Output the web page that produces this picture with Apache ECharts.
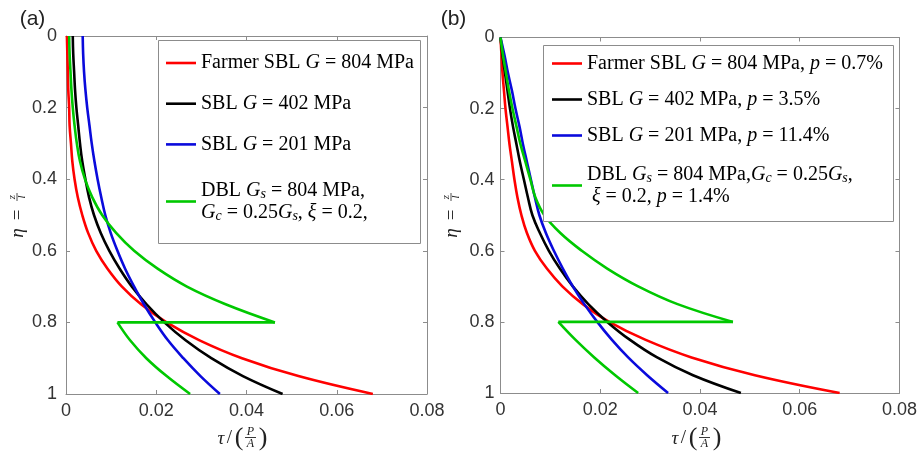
<!DOCTYPE html>
<html><head><meta charset="utf-8">
<script src="https://cdn.jsdelivr.net/npm/echarts@6/dist/echarts.min.js"></script>
<style>html,body{margin:0;padding:0;background:#fff}#c{width:920px;height:453px}</style>
</head><body><div id="c"></div>
<script>
// ---------- data (eta = z/l, values = tau/(P/A)) ----------
const etaGrid = [0, 0.05, 0.1, 0.15, 0.2, 0.25, 0.3, 0.35, 0.4, 0.45, 0.5, 0.55, 0.6, 0.65, 0.7, 0.75, 0.8, 0.85, 0.9, 0.95, 1.0];
// panel (a)
const redA   = [0.0002, 0.0003, 0.0004, 0.0005, 0.0007, 0.0008, 0.0011, 0.0014, 0.0019, 0.0026, 0.0036, 0.0049, 0.0067, 0.0092, 0.0124, 0.0167, 0.0223, 0.0296, 0.0390, 0.0515, 0.0680];
const blackA = [0.0015, 0.0016, 0.0018, 0.0020, 0.0023, 0.0027, 0.0031, 0.0036, 0.0043, 0.0051, 0.0062, 0.0077, 0.0096, 0.0119, 0.0146, 0.0179, 0.0218, 0.0265, 0.0322, 0.0392, 0.0480];
const blueA  = [0.0037, 0.0038, 0.0040, 0.0043, 0.0047, 0.0052, 0.0057, 0.0063, 0.0070, 0.0078, 0.0087, 0.0099, 0.0114, 0.0131, 0.0151, 0.0173, 0.0198, 0.0226, 0.0260, 0.0298, 0.0341];
const greenUpperEta = [0, 0.05, 0.1, 0.15, 0.2, 0.25, 0.3, 0.35, 0.4, 0.45, 0.5, 0.55, 0.6, 0.65, 0.7, 0.75, 0.8];
const greenUpperA   = [0.0007, 0.0008, 0.0010, 0.0012, 0.0015, 0.0019, 0.0024, 0.0031, 0.0042, 0.0058, 0.0080, 0.0111, 0.0151, 0.0203, 0.0268, 0.0355, 0.0463];
const greenLowerEta = [0.8, 0.85, 0.9, 0.95, 1.0];
const greenLowerA   = [0.0114, 0.0142, 0.0178, 0.0223, 0.0275];
// panel (b)
const redB   = [0.0000, 0.0002, 0.0004, 0.0007, 0.0010, 0.0014, 0.0018, 0.0023, 0.0028, 0.0034, 0.0042, 0.0053, 0.0069, 0.0093, 0.0124, 0.0165, 0.0218, 0.0290, 0.0383, 0.0510, 0.0680];
const blackB = [0.0000, 0.0004, 0.0009, 0.0014, 0.0019, 0.0025, 0.0032, 0.0039, 0.0047, 0.0055, 0.0064, 0.0079, 0.0097, 0.0119, 0.0145, 0.0176, 0.0214, 0.0259, 0.0314, 0.0386, 0.0482];
const blueB  = [0.0000, 0.0008, 0.0015, 0.0023, 0.0030, 0.0038, 0.0045, 0.0053, 0.0061, 0.0069, 0.0078, 0.0091, 0.0107, 0.0125, 0.0145, 0.0168, 0.0194, 0.0223, 0.0256, 0.0294, 0.0336];
const greenUpperB = [0.0000, 0.0005, 0.0011, 0.0017, 0.0024, 0.0032, 0.0040, 0.0050, 0.0060, 0.0070, 0.0088, 0.0120, 0.0163, 0.0214, 0.0276, 0.0355, 0.0466];
const greenLowerB = [0.0116, 0.0150, 0.0188, 0.0230, 0.0276];

const namesA = ['Farmer SBL G = 804 MPa', 'SBL G = 402 MPa', 'SBL G = 201 MPa', 'DBL Gs = 804 MPa, Gc = 0.25Gs, xi = 0.2,'];
const namesB = ['Farmer SBL G = 804 MPa, p = 0.7%', 'SBL G = 402 MPa, p = 3.5%', 'SBL G = 201 MPa, p = 11.4%', 'DBL Gs = 804 MPa,Gc = 0.25Gs, xi = 0.2, p = 1.4%'];
const richNames = {};
richNames[namesA[0]] = 'Farmer SBL {i|G} = 804 MPa';
richNames[namesA[1]] = 'SBL {i|G} = 402 MPa';
richNames[namesA[2]] = 'SBL {i|G} = 201 MPa';
richNames[namesA[3]] = 'DBL {i|G}{s|s} = 804 MPa,\n{i|G}{s|c} = 0.25{i|G}{s|s}, {i|ξ} = 0.2,';
richNames[namesB[0]] = 'Farmer SBL {i|G} = 804 MPa, {i|p} = 0.7%';
richNames[namesB[1]] = 'SBL {i|G} = 402 MPa, {i|p} = 3.5%';
richNames[namesB[2]] = 'SBL {i|G} = 201 MPa, {i|p} = 11.4%';
richNames[namesB[3]] = 'DBL {i|G}{s|s} = 804 MPa,{i|G}{s|c} = 0.25{i|G}{s|s},\n {i|ξ} = 0.2, {i|p} = 1.4%';

const colors = {red:'#ff0000', black:'#000000', blue:'#0a0adc', green:'#00c800'};
const AX = '#8c8c8c';
const SERIF = '"Liberation Serif", "DejaVu Serif", serif';
const SANS = '"Liberation Sans", Arial, sans-serif';

function pts(xs, ys) { return xs.map((v, i) => [v, ys[i]]); }

function xAx(g, pos, lab) {
  return {type:'value', gridIndex:g, position:pos, min:0, max:0.08, interval:0.02,
    axisLine:{show:true, onZero:false, lineStyle:{color:AX, width:1}},
    axisTick:{show:true, inside:true, length:4, lineStyle:{color:AX}},
    splitLine:{show:false},
    axisLabel:{show:lab, color:'#333', fontSize:18, fontFamily:SANS, margin:8}};
}
function yAx(g, pos, lab, margin) {
  return {type:'value', gridIndex:g, position:pos, min:0, max:1, interval:0.2, inverse:true,
    axisLine:{show:true, onZero:false, lineStyle:{color:AX, width:1}},
    axisTick:{show:true, inside:true, length:4, lineStyle:{color:AX}},
    splitLine:{show:false},
    axisLabel:{show:lab, color:'#333', fontSize:18, fontFamily:SANS, margin:margin}};
}
function line(name, data, color, xi, yi, smooth) {
  return {type:'line', name:name, data:data, xAxisIndex:xi, yAxisIndex:yi, symbol:'none',
    smooth:smooth, clip:true, z:3,
    lineStyle:{color:color, width:2.6}, itemStyle:{color:color}, emphasis:{disabled:true}};
}
function panelSeries(names, red, black, blue, gUp, gLow, xi, yi) {
  return [
    line(names[0], pts(red, etaGrid), colors.red, xi, yi, 0.4),
    line(names[1], pts(black, etaGrid), colors.black, xi, yi, 0.4),
    line(names[2], pts(blue, etaGrid), colors.blue, xi, yi, 0.4),
    line(names[3], pts(gUp, greenUpperEta), colors.green, xi, yi, 0.4),
    line(names[3], [[gUp[gUp.length-1], greenLowerEta[0]], [gLow[0], greenLowerEta[0]]], colors.green, xi, yi, false),
    line(names[3], pts(gLow, greenLowerEta), colors.green, xi, yi, 0.4)
  ];
}
const legendText = {
  fontFamily:SERIF, fontSize:20, color:'#000', lineHeight:22,
  rich:{
    i:{fontFamily:SERIF, fontSize:20, fontStyle:'italic', color:'#000', lineHeight:22},
    s:{fontFamily:SERIF, fontSize:14, fontStyle:'italic', color:'#000', lineHeight:22, verticalAlign:'bottom'}
  }
};
function legend(names, left, top, gap) {
  return {data:names, orient:'vertical', left:left, top:top, itemGap:gap, itemWidth:30, itemHeight:2.6,
    icon:'rect', selectedMode:false, z:20, padding:0,
    formatter:(n) => richNames[n], textStyle:legendText};
}

function xLabel(x0) {
  const y0 = 438;
  return {type:'group', children:[
    {type:'text', x:x0+5, y:y0+1, style:{text:'τ', fontFamily:SERIF, fontStyle:'italic', fontSize:19, fill:'#222', align:'center', verticalAlign:'middle'}},
    {type:'text', x:x0+13.5, y:y0, style:{text:'/', fontFamily:SERIF, fontSize:19, fill:'#222', align:'center', verticalAlign:'middle'}},
    {type:'text', x:x0+23, y:y0, style:{text:'(', fontFamily:SERIF, fontSize:26, fill:'#222', align:'center', verticalAlign:'middle'}},
    {type:'text', x:x0+34.5, y:y0-6, style:{text:'P', fontFamily:SERIF, fontStyle:'italic', fontSize:12, fill:'#222', align:'center', verticalAlign:'middle'}},
    {type:'line', shape:{x1:x0+29, y1:y0-0.5, x2:x0+40, y2:y0-0.5}, style:{stroke:'#222', lineWidth:0.9}},
    {type:'text', x:x0+34.5, y:y0+6, style:{text:'A', fontFamily:SERIF, fontStyle:'italic', fontSize:12, fill:'#222', align:'center', verticalAlign:'middle'}},
    {type:'text', x:x0+47, y:y0, style:{text:')', fontFamily:SERIF, fontSize:26, fill:'#222', align:'center', verticalAlign:'middle'}}
  ]};
}
function yLabel(cx) {
  return {type:'group', x:cx, y:215, rotation:Math.PI/2, children:[
    {type:'text', x:-18, y:0, style:{text:'η', fontFamily:SERIF, fontStyle:'italic', fontSize:19, fill:'#222', align:'center', verticalAlign:'middle'}},
    {type:'text', x:0, y:0, style:{text:'=', fontFamily:SERIF, fontSize:19, fill:'#222', align:'center', verticalAlign:'middle'}},
    {type:'text', x:18, y:-6, style:{text:'z', fontFamily:SERIF, fontStyle:'italic', fontSize:11, fill:'#222', align:'center', verticalAlign:'middle'}},
    {type:'line', shape:{x1:14, y1:-1, x2:22, y2:-1}, style:{stroke:'#222', lineWidth:0.8}},
    {type:'text', x:18, y:4, style:{text:'l', fontFamily:SERIF, fontStyle:'italic', fontSize:11, fill:'#222', align:'center', verticalAlign:'middle'}}
  ]};
}

const chart = echarts.init(document.getElementById('c'), null, {renderer:'canvas'});
chart.setOption({
  animation:false,
  backgroundColor:'#ffffff',
  grid:[{left:66, top:36, width:361, height:358}, {left:500.5, top:37.5, width:400, height:355.5}],
  xAxis:[xAx(0,'bottom',true), xAx(0,'top',false), xAx(1,'bottom',true), xAx(1,'top',false)],
  yAxis:[yAx(0,'left',true,9), yAx(0,'right',false,9), yAx(1,'left',true,6), yAx(1,'right',false,6)],
  legend:[
    legend(namesA.slice(0,3), 166, 52, 18.7),
    legend(namesA.slice(3), 166, 179.5, 0),
    legend(namesB.slice(0,3), 552, 52.5, 14),
    legend(namesB.slice(3), 552, 163.5, 0)
  ],
  series:[].concat(
    panelSeries(namesA, redA, blackA, blueA, greenUpperA, greenLowerA, 0, 0),
    panelSeries(namesB, redB, blackB, blueB, greenUpperB, greenLowerB, 2, 2)
  ),
  graphic:[
    {type:'rect', shape:{x:158.5, y:40.5, width:262, height:203}, style:{fill:'#fff', stroke:AX, lineWidth:1}, z:15},
    {type:'rect', shape:{x:543.5, y:45.5, width:350, height:176}, style:{fill:'#fff', stroke:AX, lineWidth:1}, z:15},
    {type:'text', x:32.5, y:19, style:{text:'(a)', fontFamily:SANS, fontSize:21, fill:'#222', align:'center', verticalAlign:'middle'}, z:15},
    {type:'text', x:453.5, y:19, style:{text:'(b)', fontFamily:SANS, fontSize:21, fill:'#222', align:'center', verticalAlign:'middle'}, z:15},
    xLabel(216), xLabel(670),
    yLabel(18), yLabel(452)
  ]
});
</script></body></html>
